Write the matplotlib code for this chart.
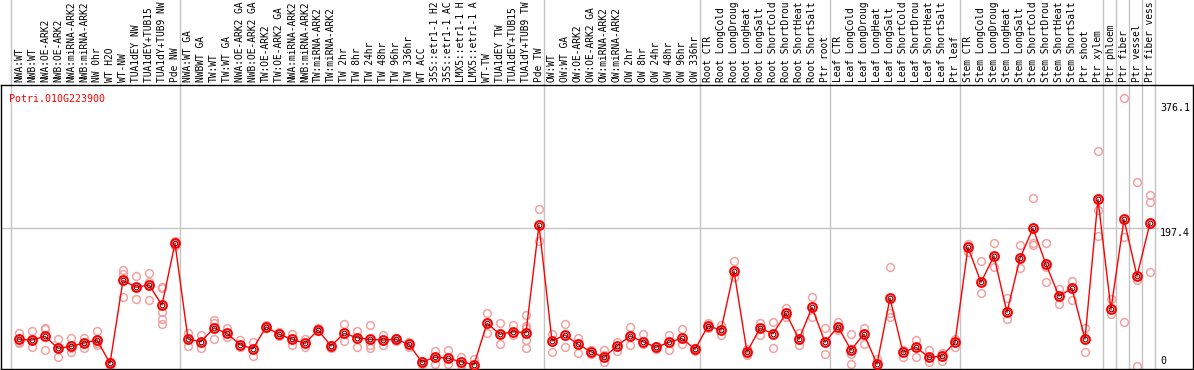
import matplotlib
matplotlib.use("Agg")
import matplotlib.pyplot as plt
import numpy as np

gene = "Potri.010G223900"

labels = [
    "NWA:WT", "NWB:WT", "NWA:OE-ARK2", "NWB:OE-ARK2", "NWA:miRNA-ARK2",
    "NWB:miRNA-ARK2", "NW 0hr", "WT H2O", "WT-NW", "TUA1dEY NW",
    "TUA1dEY+TUB15 NW", "TUA1dY+TUB9 NW", "Pde NW",
    "NWA:WT GA", "NWBWT GA", "TW:WT", "TW:WT GA", "NWA:OE-ARK2 GA",
    "NWB:OE-ARK2 GA", "TW:OE-ARK2", "TW:OE-ARK2 GA", "NWA:miRNA-ARK2",
    "NWB:miRNA-ARK2", "TW:miRNA-ARK2", "TW:miRNA-ARK2", "TW 2hr", "TW 8hr",
    "TW 24hr", "TW 48hr", "TW 96hr", "TW 336hr", "WT ACC", "35S::etr1-1 H2O",
    "35S::etr1-1 ACC", "LMX5::etr1-1 H2O", "LMX5::etr1-1 ACC", "WT-TW",
    "TUA1dEY TW", "TUA1dEY+TUB15 TW", "TUA1dY+TUB9 TW", "Pde TW",
    "OW:WT", "OW:WT GA", "OW:OE-ARK2", "OW:OE-ARK2 GA", "OW:miRNA-ARK2",
    "OW:miRNA-ARK2", "OW 2hr", "OW 8hr", "OW 24hr", "OW 48hr", "OW 96hr",
    "OW 336hr",
    "Root CTR", "Root LongCold", "Root LongDrought", "Root LongHeat",
    "Root LongSalt", "Root ShortCold", "Root ShortDrought", "Root ShortHeat",
    "Root ShortSalt", "Ptr root",
    "Leaf CTR", "Leaf LongCold", "Leaf LongDrought", "Leaf LongHeat",
    "Leaf LongSalt", "Leaf ShortCold", "Leaf ShortDrought", "Leaf ShortHeat",
    "Leaf ShortSalt", "Ptr leaf",
    "Stem CTR", "Stem LongCold", "Stem LongDrought", "Stem LongHeat",
    "Stem LongSalt", "Stem ShortCold", "Stem ShortDrought", "Stem ShortHeat",
    "Stem ShortSalt", "Ptr shoot", "Ptr xylem",
    "Ptr phloem", "Ptr fiber", "Ptr vessel", "Ptr fiber vessel",
]

group_sizes = [13, 28, 12, 10, 10, 11, 1, 1, 1, 1]

means = [
    38.7, 37.7, 43.0, 25.9, 28.7, 33.5, 37.7, 4.4, 123.1, 113.1, 116.4, 87.8, 176.0,
    39.2, 35.3, 54.9, 47.3, 31.0, 25.3, 56.3, 45.9, 38.7, 33.0, 52.0, 29.2, 47.3,
    41.0, 38.7, 37.7, 38.7, 31.6, 5.9, 13.4, 11.6, 6.7, 2.4, 61.6, 45.9, 49.6,
    48.2, 202.1,
    36.3, 44.9, 31.6, 21.0, 13.0, 29.2, 43.5, 35.3, 27.3, 34.5, 40.2, 24.4,
    57.8, 52.0, 136.4, 20.6, 54.5, 46.7, 75.9, 38.7, 84.5, 34.5,
    56.8, 23.4, 46.3, 3.4, 97.4, 20.2, 27.3, 13.0, 14.9, 34.5,
    170.3, 120.2, 157.8, 77.3, 154.5, 197.4, 146.0, 100.6, 111.6, 39.2, 238.9,
    81.6, 210.3, 129.2, 204.6,
]

replicates = [
    [48.2, 35.3, 33.9], [51.0, 28.2, 37.7], [54.9, 53.0, 23.4], [38.7, 13.0, 25.9],
    [40.6, 21.0, 25.9], [41.0, 25.9, 33.0], [51.0, 30.6, 33.0], [2, 6, 5],
    [137.8, 131.7, 98.8], [128.8, 95.9, 113], [133.5, 121.1, 94.5],
    [113.9, 112.1, 78.2, 67.3, 60.2], [180, 176, 172],
    [47.3, 29.6], [44.9, 25.9], [66.3, 61.6, 39.2], [54.5, 41.6], [37.7, 27.3],
    [34.5, 15.3], [59.2, 54.9], [49.6, 43.5], [46.7, 30.2], [38.7, 28.2],
    [55.3, 50.6], [31, 27], [60.2, 36.3], [51.0, 27.3], [58.8, 30.2, 26.7],
    [45.3, 30.2], [40, 37], [35.3, 28], [8, 4], [22.0, 3.4], [23.0, 3.4],
    [13.9, 2.0], [10.2, 0], [75.9, 48.2], [61.6, 31.6], [58.8, 44.9],
    [73.1, 57.8, 54.5, 37.7, 26.7], [225.0, 179.7],
    [45.9, 21.0], [60.2, 27.3], [40.2, 18.7], [24, 18], [23.4, 16.3, 5.9],
    [35.3, 22.4], [55.9, 30.2], [45.9, 31.6], [29, 25], [44.9, 23.4],
    [53.0, 32.0], [27, 22],
    [62.5, 54.5], [59.2, 44.9], [150.7, 128.2], [15.9, 25], [62.5, 44.9],
    [63.9, 25.9], [83.1, 71.1], [47.3, 30.2], [99.6, 71.1], [54.5, 17.3],
    [63.9, 52.0], [45.9, 17.7, 3.0], [54.5, 32.0], [10.2, 0],
    [141.7, 76.8, 71.1], [23.4, 13.9], [37.7, 13.9], [23.4, 6.7], [18.7, 8.1],
    [38.7, 27.3],
    [175.0, 164.0], [151.1, 104.5], [176.8, 142.5], [97.4, 67.3], [173.1, 140.2],
    [240.3, 176.8, 173.6], [176.0, 142.5, 120.2], [110.7, 88.8], [122.1, 94.9],
    [55.3, 21.0], [307.9, 223.6, 186.4],
    [95.9, 74.9], [383.3, 185.4, 63.0], [263.2, 0, 124], [244.6, 235.0, 135.0],
]

ytick_vals = [0, 197.4, 376.1]

W, H = 1194, 370
fig = plt.figure(figsize=(W / 100, H / 100), dpi=100)
font = "DejaVu Sans Mono"
grid_col = "#c4c4c4"

# label strip above plot, only for the group separators
lab_ax = fig.add_axes([1 / W, 285 / H, 1192 / W, 85 / H])
ax = fig.add_axes([1 / W, 1 / H, 1192 / W, 284 / H], sharex=lab_ax)
lab_ax.axis("off")

x = np.arange(len(labels))
ax.set_xlim(-1.385, 90.31)
ax.set_ylim(-3.7, 402.3)

# separators: right side of each group
ends = np.cumsum(group_sizes) - 1
seps = [-1 + 0.385] + list(ends + 0.385)
for s in seps:
    ax.axvline(s, color=grid_col, lw=1, zorder=0)
    lab_ax.axvline(s, color=grid_col, lw=1, zorder=0)

ax.axhline(197.4, xmax=0.9706, color=grid_col, lw=1, zorder=0)

# replicates
for i, reps in enumerate(replicates):
    ax.plot([x[i]] * len(reps), reps, ls="none", marker="o", ms=5.6,
            mfc="none", mec="#f2a2a2", mew=1.1, zorder=2)

ax.plot(x, means, color="red", lw=1, marker="o", ms=6.3, mfc="none",
        mec="red", mew=1.5, zorder=3)
ax.plot(x, means, ls="none", marker="o", ms=3.4, mfc="none",
        mec="#400000", mew=0.7, zorder=4)

# the strip is only tall enough for 14 characters
ax.set_xticks(x)
ax.set_xticklabels([l[:14] for l in labels], rotation=90, fontsize=6.9,
                   family=font)
ax.xaxis.tick_top()
ax.tick_params(axis="x", length=0, pad=1.8)
ax.set_yticks([])

for v in ytick_vals:
    ax.text(0.9725, v, str(v), transform=ax.get_yaxis_transform(),
            fontsize=7.2, family=font, va="bottom" if v == 0 else "top",
            ha="left")

ax.text(0.0065, 0.97, gene, transform=ax.transAxes, color="red",
        fontsize=7.2, family=font, va="top", ha="left")

for sp in ax.spines.values():
    sp.set_color("black")
    sp.set_linewidth(1)

fig.savefig("out.png", dpi=100)
